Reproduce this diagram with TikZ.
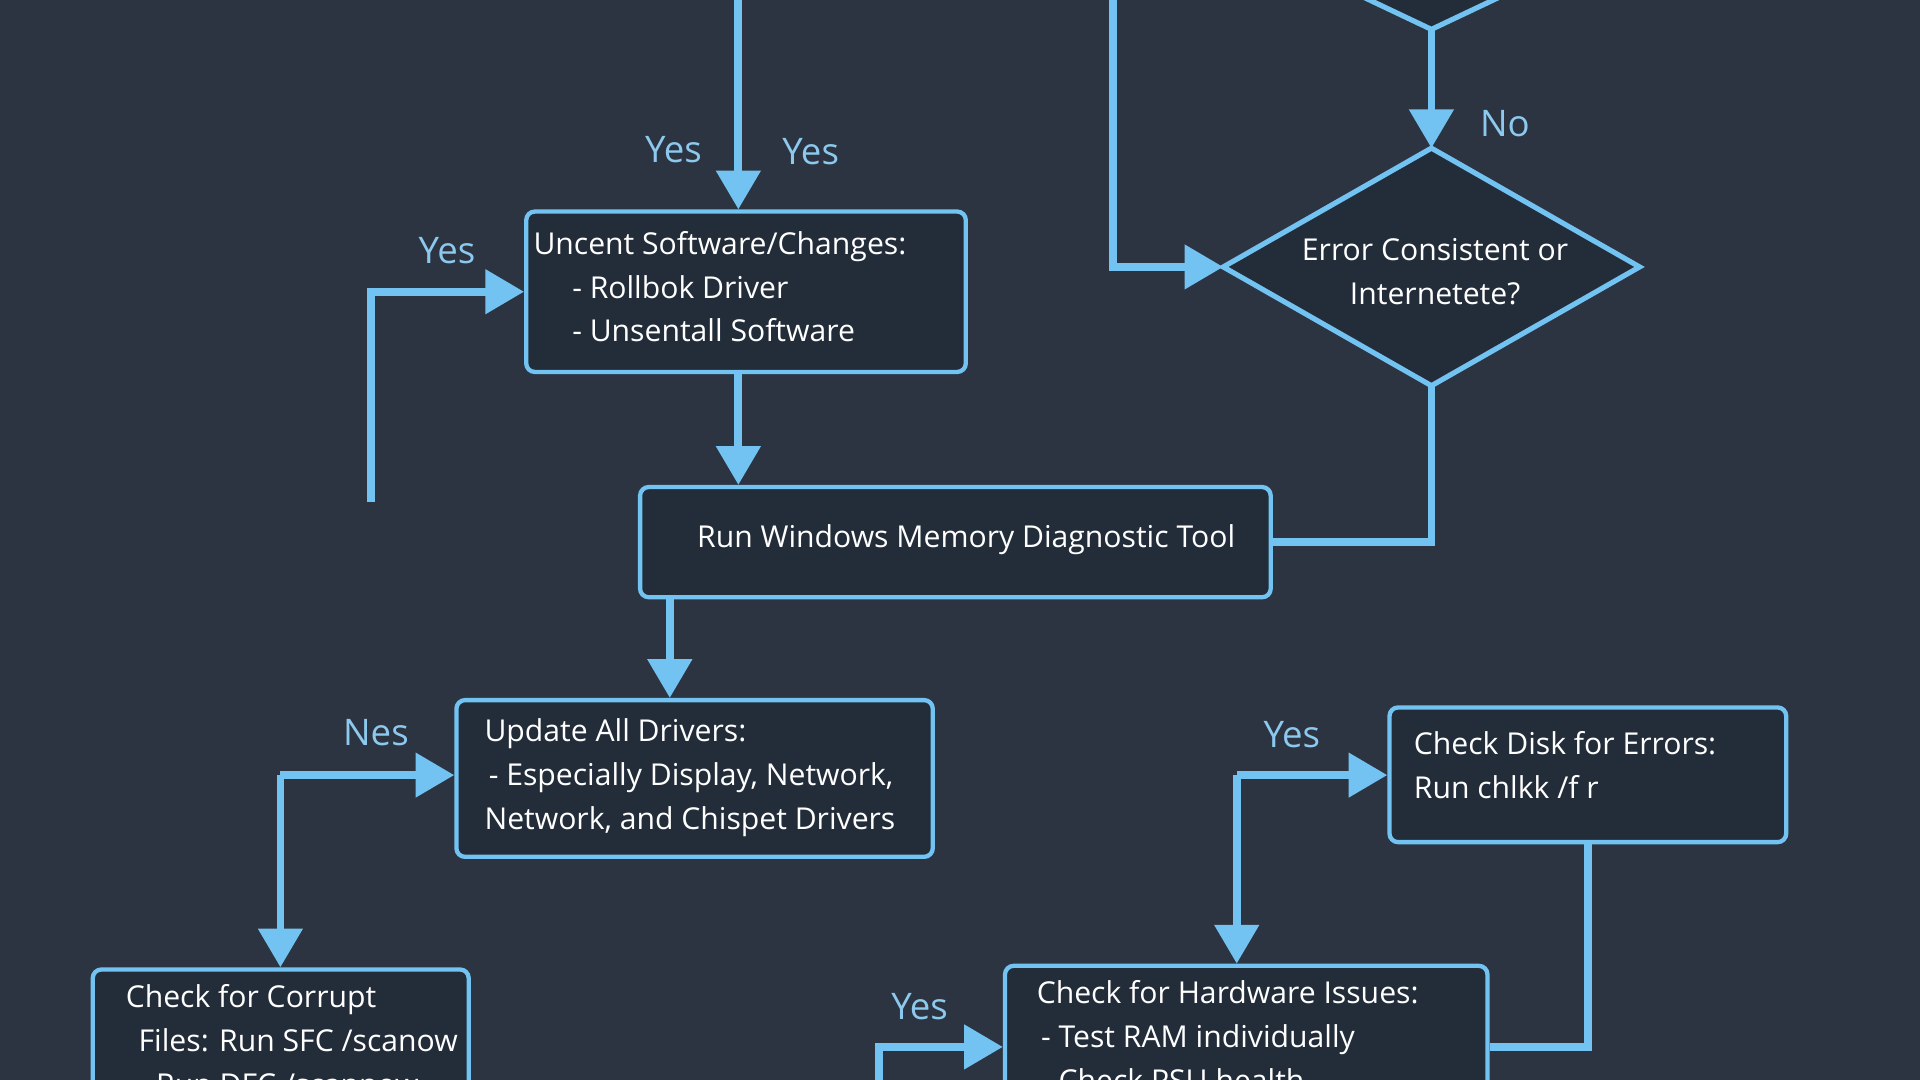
\documentclass[tikz,border=0pt]{standalone}
\usepackage{fontspec}
\setmainfont{Open Sans}
\usetikzlibrary{shapes.geometric,arrows.meta}
\definecolor{fond}{HTML}{2B3440}
\definecolor{boite}{HTML}{232D3A}
\definecolor{bleu}{HTML}{72C2F2}
\definecolor{label}{HTML}{8DC9EE}
\tikzset{
  box/.style={draw=bleu, line width=1pt, fill=boite, rounded corners=2pt, anchor=north west, inner sep=0pt},
  texte/.style={anchor=north west, text=white, font=\fontsize{7}{10.2}\selectfont, align=left, inner sep=0pt},
  fleche/.style={bleu, line width=1.8pt, -{Triangle[length=9pt,width=10pt]}},
  trait/.style={bleu, line width=1.8pt},
  oui/.style={text=label, font=\fontsize{8.5}{10}\selectfont}
}
\begin{document}
\begin{tikzpicture}[x=0.01cm, y=-0.01cm]
\fill[fond] (0,0) rectangle (1568,882);
\useasboundingbox (0,0) rectangle (1568,882);
% boxes
\node[box, minimum width=359*0.01cm, minimum height=131*0.01cm] (soft) at (428,171) {};
\node[texte] at (435,188) {Uncent Software/Changes:\\\hspace{9pt}- Rollbok Driver\\\hspace{9pt}- Unsentall Software};
\node[box, minimum width=515*0.01cm, minimum height=90*0.01cm] (mem) at (521,396) {};
\node[text=white, font=\fontsize{7}{10}\selectfont] at (789,441) {Run Windows Memory Diagnostic Tool};
\node[box, minimum width=389*0.01cm, minimum height=128*0.01cm] (drv) at (371,570) {};
\node[texte] at (395,586) {Update All Drivers:\\\hspace{1pt}- Especially Display, Network,\\Network, and Chispet Drivers};
\node[box, minimum width=307*0.01cm, minimum height=130*0.01cm] (sfc) at (74,790) {};
\node[texte] at (102,803) {Check for Corrupt\\\hspace{3pt}Files: Run SFC /scanow\\\hspace{3pt}- Run DFC /scannow};
\node[box, minimum width=324*0.01cm, minimum height=110*0.01cm] (disk) at (1133,576) {};
\node[texte] at (1154,597) {Check Disk for Errors:\\Run chlkk /f r};
\node[box, minimum width=394*0.01cm, minimum height=130*0.01cm] (hw) at (819,787) {};
\node[texte] at (846,800) {Check for Hardware Issues:\\\hspace{1pt}- Test RAM individually\\\hspace{1pt}- Check PSU health};
% diamond
\coordinate (errN) at (1169,121);
\coordinate (errS) at (1169,315);
\coordinate (errW) at (999,218);
\coordinate (errE) at (1339,218);
\draw[bleu, line width=1.2pt, fill=boite] (errN) -- (errE) -- (errS) -- (errW) -- cycle;
\node[text=white, font=\fontsize{7}{10.2}\selectfont, align=center] (err) at (1172,222) {Error Consistent or\\Internetete?};
\draw[bleu, line width=1.2pt, fill=boite] (1110,-4) -- (1169,24) -- (1228,-4);
% connectors
\coordinate (haut) at (603,0);
\coordinate (gauche) at (303,410);
\coordinate (ligne) at (909,0);
\coordinate (pointe) at (1169,24);
\coordinate (sortie) at (547,486);
\coordinate (c1) at (229,633);
\coordinate (c2) at (1010,633);
\coordinate (bas) at (718,882);
\draw[fleche] (haut) -- (soft.north -| haut);
\draw[fleche] (soft.south -| haut) -- (mem.north -| haut);
\draw[fleche] (gauche) |- (soft.west);
\draw[fleche] (ligne) |- (errW);
\draw[fleche] (pointe) -- (errN);
\draw[trait] (errS) |- (mem.east);
\draw[fleche] (sortie) -- (drv.north -| sortie);
\draw[fleche] (c1) -- (c1 -| drv.west);
\draw[fleche] (c1) -- (c1 |- sfc.north);
\draw[fleche] (c2) -- (c2 -| disk.west);
\draw[fleche] (c2) -- (c2 |- hw.north);
\draw[trait] (disk.south -| 1297,0) |- (hw.east |- 0,855);
\draw[fleche] (bas) |- (hw.west |- 0,855);
% labels
\node[oui] at (550,122) {Yes};
\node[oui] at (662,124) {Yes};
\node[oui] at (365,205) {Yes};
\node[oui] at (1229,101) {No};
\node[oui] at (307,598) {Nes};
\node[oui] at (1055,600) {Yes};
\node[oui] at (751,822) {Yes};
\end{tikzpicture}
\end{document}
